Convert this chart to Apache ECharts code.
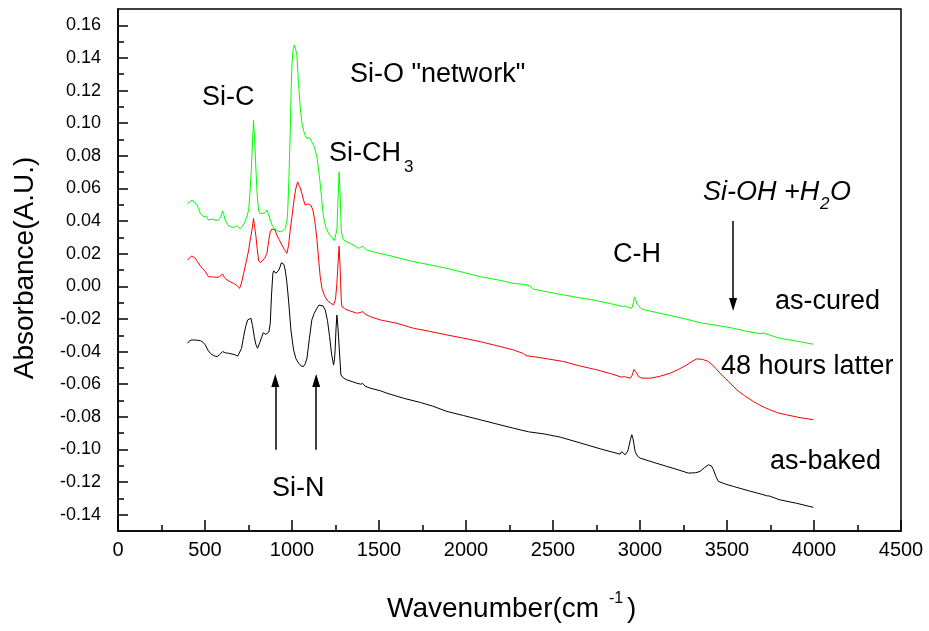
<!DOCTYPE html>
<html><head><meta charset="utf-8">
<script src="https://cdn.jsdelivr.net/npm/echarts@6/dist/echarts.min.js"></script>
<style>html,body{margin:0;padding:0;background:#fff}#c{width:929px;height:631px}</style>
</head><body><div id="c"></div><script>
const FONT = '"Liberation Sans", Arial, sans-serif';

// axis ticks
const xTickValues = [0, 500, 1000, 1500, 2000, 2500, 3000, 3500, 4000, 4500];
const yTickLabels = [-0.14, -0.12, -0.10, -0.08, -0.06, -0.04, -0.02, 0.00, 0.02, 0.04, 0.06, 0.08, 0.10, 0.12, 0.14, 0.16];
const yMinorTicks = [-0.13, -0.11, -0.09, -0.07, -0.05, -0.03, -0.01, 0.01, 0.03, 0.05, 0.07, 0.09, 0.11, 0.13, 0.15];

// series: [wavenumber (cm-1), absorbance (A.U.)]
const asCured = [[400,0.0508],[412,0.0515],[425,0.0529],[438,0.0518],[446,0.0522],[454,0.0498],[463,0.0475],[473,0.0447],[482,0.0440],[492,0.0426],[500,0.0432],[507,0.0430],[514,0.0418],[520,0.0406],[535,0.0412],[549,0.0410],[563,0.0404],[578,0.0406],[590,0.0425],[601,0.0463],[608,0.0440],[616,0.0406],[626,0.0385],[636,0.0370],[650,0.0364],[664,0.0361],[673,0.0372],[683,0.0370],[693,0.0358],[703,0.0353],[714,0.0362],[726,0.0386],[738,0.0420],[751,0.0467],[760,0.0600],[766,0.0712],[773,0.0880],[779,0.1018],[786,0.0880],[793,0.0712],[800,0.0560],[808,0.0467],[817,0.0445],[827,0.0437],[842,0.0450],[856,0.0467],[865,0.0440],[875,0.0406],[886,0.0375],[898,0.0355],[915,0.0340],[932,0.0334],[947,0.0340],[961,0.0355],[968,0.0385],[974,0.0426],[982,0.0650],[990,0.0957],[995,0.1200],[1000,0.1366],[1006,0.1450],[1013,0.1478],[1020,0.1460],[1028,0.1416],[1037,0.1250],[1047,0.1100],[1056,0.1010],[1066,0.0957],[1076,0.0925],[1086,0.0906],[1094,0.0915],[1101,0.0912],[1112,0.0890],[1124,0.0865],[1133,0.0835],[1143,0.0794],[1152,0.0720],[1162,0.0631],[1172,0.0520],[1181,0.0426],[1195,0.0360],[1210,0.0325],[1228,0.0300],[1243,0.0280],[1250,0.0290],[1258,0.0345],[1265,0.0550],[1271,0.0702],[1277,0.0550],[1283,0.0345],[1290,0.0300],[1296,0.0284],[1315,0.0272],[1335,0.0263],[1360,0.0248],[1382,0.0233],[1395,0.0240],[1407,0.0247],[1418,0.0232],[1430,0.0222],[1480,0.0208],[1545,0.0192],[1620,0.0172],[1698,0.0151],[1790,0.0132],[1890,0.0110],[1985,0.0085],[2081,0.0059],[2180,0.0040],[2273,0.0018],[2330,0.0012],[2340,0.0022],[2350,0.0008],[2365,0.0003],[2388,-0.0018],[2470,-0.0035],[2560,-0.0053],[2650,-0.0070],[2752,-0.0088],[2830,-0.0106],[2900,-0.0124],[2914,-0.0121],[2925,-0.0130],[2940,-0.0132],[2953,-0.0134],[2962,-0.0100],[2968,-0.0065],[2972,-0.0059],[2977,-0.0075],[2984,-0.0110],[2991,-0.0121],[3010,-0.0140],[3100,-0.0162],[3180,-0.0180],[3269,-0.0202],[3345,-0.0223],[3430,-0.0238],[3518,-0.0253],[3610,-0.0275],[3690,-0.0290],[3709,-0.0286],[3720,-0.0296],[3800,-0.0318],[3900,-0.0336],[3996,-0.0355]];

const hours48 = [[400,0.0160],[412,0.0176],[425,0.0186],[435,0.0180],[444,0.0172],[458,0.0150],[473,0.0125],[488,0.0108],[502,0.0090],[511,0.0078],[520,0.0059],[535,0.0058],[549,0.0057],[569,0.0055],[585,0.0060],[601,0.0075],[612,0.0055],[626,0.0039],[645,0.0028],[664,0.0018],[680,0.0008],[690,0.0000],[699,-0.0012],[710,0.0020],[722,0.0080],[737,0.0150],[751,0.0222],[762,0.0300],[770,0.0345],[779,0.0416],[786,0.0360],[793,0.0304],[800,0.0230],[808,0.0160],[817,0.0145],[827,0.0151],[842,0.0170],[856,0.0202],[866,0.0280],[875,0.0334],[885,0.0352],[894,0.0361],[903,0.0345],[913,0.0314],[927,0.0285],[942,0.0253],[957,0.0225],[971,0.0202],[980,0.0250],[990,0.0345],[1000,0.0430],[1009,0.0508],[1020,0.0590],[1032,0.0640],[1045,0.0610],[1057,0.0569],[1066,0.0530],[1076,0.0498],[1090,0.0505],[1101,0.0512],[1110,0.0495],[1120,0.0467],[1130,0.0410],[1143,0.0290],[1152,0.0180],[1162,0.0060],[1172,-0.0012],[1186,-0.0055],[1201,-0.0084],[1220,-0.0102],[1239,-0.0114],[1250,-0.0080],[1258,0.0018],[1265,0.0150],[1271,0.0247],[1277,0.0100],[1283,-0.0080],[1287,-0.0125],[1300,-0.0135],[1316,-0.0145],[1345,-0.0155],[1373,-0.0165],[1395,-0.0160],[1407,-0.0155],[1420,-0.0170],[1449,-0.0186],[1507,-0.0206],[1603,-0.0227],[1698,-0.0257],[1790,-0.0276],[1890,-0.0298],[1985,-0.0318],[2081,-0.0339],[2180,-0.0365],[2273,-0.0390],[2330,-0.0412],[2345,-0.0425],[2355,-0.0418],[2388,-0.0431],[2470,-0.0445],[2560,-0.0461],[2650,-0.0487],[2752,-0.0512],[2830,-0.0535],[2895,-0.0557],[2910,-0.0553],[2925,-0.0558],[2945,-0.0563],[2955,-0.0545],[2965,-0.0510],[2972,-0.0502],[2980,-0.0530],[2991,-0.0553],[3010,-0.0563],[3058,-0.0563],[3110,-0.0553],[3173,-0.0533],[3220,-0.0510],[3269,-0.0482],[3300,-0.0460],[3326,-0.0445],[3360,-0.0448],[3393,-0.0461],[3425,-0.0490],[3460,-0.0533],[3510,-0.0585],[3556,-0.0635],[3600,-0.0670],[3651,-0.0706],[3700,-0.0735],[3747,-0.0757],[3790,-0.0775],[3843,-0.0788],[3920,-0.0805],[3996,-0.0818]];

const asBaked = [[400,-0.0349],[412,-0.0333],[425,-0.0329],[450,-0.0330],[473,-0.0333],[488,-0.0343],[502,-0.0359],[516,-0.0390],[530,-0.0410],[549,-0.0425],[569,-0.0431],[585,-0.0418],[601,-0.0400],[618,-0.0408],[635,-0.0410],[655,-0.0415],[674,-0.0420],[688,-0.0428],[699,-0.0431],[710,-0.0380],[722,-0.0308],[733,-0.0250],[745,-0.0206],[755,-0.0195],[764,-0.0196],[773,-0.0240],[783,-0.0308],[792,-0.0355],[802,-0.0380],[815,-0.0345],[827,-0.0308],[835,-0.0285],[842,-0.0278],[850,-0.0295],[859,-0.0304],[867,-0.0280],[875,-0.0227],[882,-0.0060],[890,0.0080],[895,0.0095],[900,0.0096],[906,0.0080],[913,0.0069],[922,0.0095],[932,0.0120],[939,0.0145],[946,0.0151],[953,0.0135],[961,0.0100],[970,0.0030],[980,-0.0084],[994,-0.0270],[1009,-0.0390],[1023,-0.0445],[1038,-0.0471],[1052,-0.0488],[1066,-0.0492],[1076,-0.0475],[1086,-0.0441],[1100,-0.0320],[1114,-0.0206],[1128,-0.0165],[1143,-0.0135],[1155,-0.0115],[1166,-0.0108],[1178,-0.0120],[1191,-0.0145],[1204,-0.0210],[1216,-0.0308],[1228,-0.0420],[1239,-0.0482],[1244,-0.0450],[1248,-0.0390],[1253,-0.0260],[1258,-0.0176],[1264,-0.0250],[1271,-0.0370],[1281,-0.0543],[1295,-0.0562],[1316,-0.0574],[1345,-0.0584],[1373,-0.0594],[1395,-0.0600],[1407,-0.0596],[1420,-0.0612],[1449,-0.0624],[1507,-0.0640],[1545,-0.0655],[1641,-0.0686],[1737,-0.0712],[1810,-0.0735],[1890,-0.0767],[1985,-0.0792],[2081,-0.0818],[2180,-0.0845],[2273,-0.0870],[2360,-0.0892],[2450,-0.0905],[2543,-0.0925],[2650,-0.0958],[2771,-0.0996],[2840,-0.1016],[2886,-0.1029],[2895,-0.1013],[2905,-0.1025],[2914,-0.1033],[2930,-0.1010],[2945,-0.0940],[2953,-0.0910],[2960,-0.0935],[2972,-0.1012],[2986,-0.1042],[3000,-0.1053],[3080,-0.1080],[3154,-0.1104],[3220,-0.1125],[3278,-0.1145],[3320,-0.1143],[3345,-0.1135],[3370,-0.1112],[3393,-0.1094],[3410,-0.1100],[3422,-0.1124],[3436,-0.1165],[3450,-0.1196],[3490,-0.1212],[3537,-0.1227],[3630,-0.1255],[3700,-0.1275],[3728,-0.1284],[3745,-0.1286],[3800,-0.1308],[3900,-0.1330],[3996,-0.1355]];

// annotation arrows in data units: [wavenumber, from, to]
const arrowSiOH = [3535, 0.040, -0.0111];
const arrowSiN1 = [904, -0.1002, -0.0577];
const arrowSiN2 = [1139, -0.1002, -0.0577];

function arrowSeg(a) { return [{coord: [a[0], a[1]]}, {coord: [a[0], a[2]]}]; }
function txt(text, x, y, size, opts) {
  opts = opts || {};
  return {type: 'text', x: x, y: y, rotation: opts.rotation || 0, silent: true, z: 100,
    style: {text: text, fill: '#000', fontSize: size, fontFamily: FONT, fontStyle: opts.italic ? 'italic' : 'normal',
      align: opts.align || 'left', verticalAlign: 'middle', textAlign: opts.align || 'left', textVerticalAlign: 'middle'}};
}

const chart = echarts.init(document.getElementById('c'), null, {renderer: 'canvas'});
chart.setOption({
  animation: false,
  backgroundColor: '#fff',
  grid: {left: 118, right: 28, top: 9, bottom: 100, show: true, borderColor: '#000', borderWidth: 1.5, backgroundColor: 'transparent'},
  xAxis: {
    type: 'value', min: xTickValues[0], max: xTickValues[xTickValues.length - 1], interval: xTickValues[1] - xTickValues[0],
    axisLine: {show: true, onZero: false, lineStyle: {color: '#000', width: 1.5}},
    axisTick: {show: true, inside: true, length: 11, lineStyle: {color: '#000', width: 1.5}},
    minorTick: {show: true, splitNumber: 2, length: 6, lineStyle: {color: '#000', width: 1.5}},
    axisLabel: {color: '#000', fontSize: 20, fontFamily: FONT, margin: 9, formatter: function (v) { return String(v); }},
    splitLine: {show: false}, minorSplitLine: {show: false}
  },
  yAxis: [{
    type: 'value', min: -0.15, max: 0.17,
    axisLine: {show: true, onZero: false, lineStyle: {color: '#000', width: 1.5}},
    axisTick: {show: true, inside: true, length: 10, customValues: yTickLabels, lineStyle: {color: '#000', width: 1.5}},
    axisLabel: {color: '#000', fontSize: 18, fontFamily: FONT, margin: 17, customValues: yTickLabels,
      formatter: function (v) { return (Math.abs(v) < 1e-9 ? 0 : v).toFixed(2); }},
    splitLine: {show: false}
  }, {
    type: 'value', min: -0.15, max: 0.17, position: 'left',
    axisLine: {show: false},
    axisTick: {show: true, inside: true, length: 6, customValues: yMinorTicks, lineStyle: {color: '#000', width: 1.5}},
    axisLabel: {show: false},
    splitLine: {show: false}
  }],
  series: [
    {name: 'as-baked', type: 'line', data: asBaked, showSymbol: false, symbol: 'none', lineStyle: {color: '#000000', width: 1}, z: 3,
      markLine: {silent: true, symbol: ['none', 'triangle'], symbolSize: [8, 13], label: {show: false},
        lineStyle: {color: '#000', width: 1.5, type: 'solid'}, emphasis: {disabled: true},
        data: [arrowSeg(arrowSiOH), arrowSeg(arrowSiN1), arrowSeg(arrowSiN2)]}},
    {name: '48 hours latter', type: 'line', data: hours48, showSymbol: false, symbol: 'none', lineStyle: {color: '#ff0000', width: 1}, z: 3},
    {name: 'as-cured', type: 'line', data: asCured, showSymbol: false, symbol: 'none', lineStyle: {color: '#00ff00', width: 1}, z: 3}
  ],
  graphic: [
    txt('Absorbance(A.U.)', 25.3, 268, 28, {rotation: Math.PI / 2, align: 'center'}),
    txt('Wavenumber(cm', 387, 609.6, 28),
    txt('-1', 609, 599, 16),
    txt(')', 627, 609.6, 28),
    txt('Si-C', 202, 97.6, 27),
    txt('Si-O "network"', 350, 74.3, 27),
    txt('Si-CH', 329, 153.3, 27),
    txt('3', 404, 167.4, 17),
    txt('C-H', 613, 254.6, 27),
    txt('Si-OH +H', 703, 192.3, 27, {italic: true}),
    txt('2', 820, 204.7, 17, {italic: true}),
    txt('O', 830, 192.3, 27, {italic: true}),
    txt('as-cured', 775, 301.6, 27),
    txt('48 hours latter', 721, 366.6, 27),
    txt('as-baked', 770, 461.6, 27),
    txt('Si-N', 272, 488.3, 27)
  ]
});
</script></body></html>
